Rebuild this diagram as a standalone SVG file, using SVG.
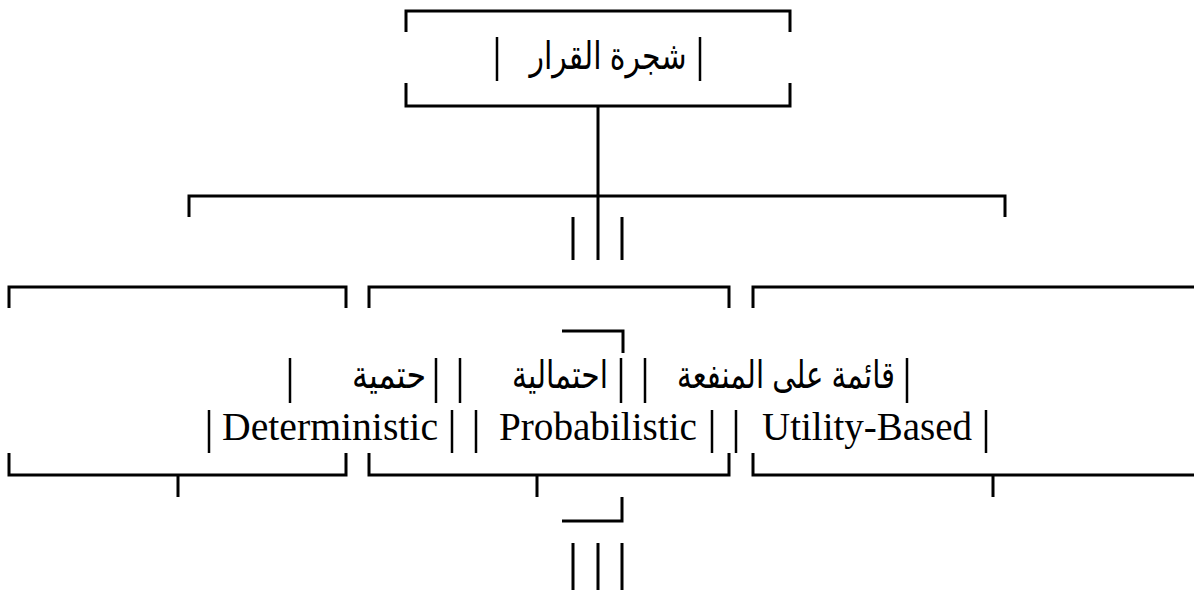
<svg xmlns="http://www.w3.org/2000/svg" width="1194" height="590" viewBox="0 0 1194 590">
<style>
.ln{stroke:#000;stroke-width:3;fill:none;stroke-linecap:butt}
.bar{stroke:#000;stroke-width:2.5;fill:none}
.ar{font-family:"Liberation Sans","DejaVu Sans","Noto Sans",sans-serif;font-size:38px;fill:#000}
.en{font-family:"Liberation Serif","Times New Roman",serif;font-size:40px;fill:#000}
</style>
<rect width="1194" height="590" fill="#fff"/>
<g id="root">
<path class="ln" d="M406,32 V11 H790 V32 M406,83 V106 H790 V83"/>
<line class="bar" x1="497" y1="37" x2="497" y2="81"/>
<line class="bar" x1="700" y1="37" x2="700" y2="81"/>
<text class="ar" x="608" y="69" text-anchor="middle" direction="rtl" textLength="157" lengthAdjust="spacingAndGlyphs">شجرة القرار</text>
</g>
<g id="connectors">
<path class="ln" d="M598,106 V217"/>
<path class="ln" d="M189,217 V196 H1005 V217"/>
<path class="ln" d="M573,217 V260 M622,217 V260"/>
<path class="ln" d="M598,217 V260"/>
<path class="ln" d="M562,331 H623 V353"/>
<path class="ln" d="M178,475 V497 M537,475 V497 M993,475 V497"/>
<path class="ln" d="M622,497 V521 H562"/>
<path class="ln" d="M573,543 V590 M598,543 V590 M622,543 V590"/>
</g>
<g id="deterministic">
<path class="ln" d="M9,308 V287 H346 V308 M9,453 V475 H346 V453"/>
<line class="bar" x1="290" y1="358" x2="290" y2="403"/>
<line class="bar" x1="436" y1="358" x2="436" y2="403"/>
<text class="ar" x="426" y="388" text-anchor="start" direction="rtl" textLength="74" lengthAdjust="spacingAndGlyphs">حتمية</text>
<line class="bar" x1="209" y1="410" x2="209" y2="453"/>
<line class="bar" x1="452" y1="410" x2="452" y2="453"/>
<text class="en" x="222" y="440" textLength="216" lengthAdjust="spacingAndGlyphs">Deterministic</text>
</g>
<g id="probabilistic">
<path class="ln" d="M369,308 V287 H729 V308 M369,453 V475 H729 V453"/>
<line class="bar" x1="460" y1="358" x2="460" y2="403"/>
<line class="bar" x1="621" y1="358" x2="621" y2="403"/>
<text class="ar" x="608" y="388" text-anchor="start" direction="rtl" textLength="96" lengthAdjust="spacingAndGlyphs">احتمالية</text>
<line class="bar" x1="476" y1="410" x2="476" y2="453"/>
<line class="bar" x1="712" y1="410" x2="712" y2="453"/>
<text class="en" x="499" y="440" textLength="198" lengthAdjust="spacingAndGlyphs">Probabilistic</text>
</g>
<g id="utility">
<path class="ln" d="M753,308 V287 H1194 M753,453 V475 H1194"/>
<line class="bar" x1="645" y1="358" x2="645" y2="403"/>
<line class="bar" x1="907" y1="358" x2="907" y2="403"/>
<text class="ar" x="895" y="388" text-anchor="start" direction="rtl" textLength="218" lengthAdjust="spacingAndGlyphs">قائمة على المنفعة</text>
<line class="bar" x1="736" y1="410" x2="736" y2="453"/>
<line class="bar" x1="986" y1="410" x2="986" y2="453"/>
<text class="en" x="762" y="440" textLength="210" lengthAdjust="spacingAndGlyphs">Utility-Based</text>
</g>
</svg>
